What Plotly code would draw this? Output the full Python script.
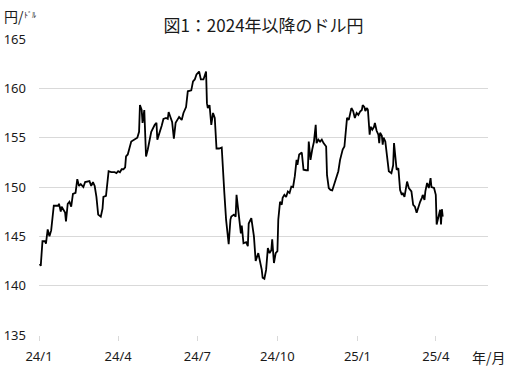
import plotly.graph_objects as go

dates = [
    "2024-01-02", "2024-01-03", "2024-01-05", "2024-01-08", "2024-01-09", "2024-01-11", "2024-01-13", "2024-01-15",
    "2024-01-18", "2024-01-23", "2024-01-24", "2024-01-26", "2024-01-27", "2024-01-31", "2024-02-01", "2024-02-03",
    "2024-02-05", "2024-02-07", "2024-02-09", "2024-02-12", "2024-02-14", "2024-02-16", "2024-02-18", "2024-02-21",
    "2024-02-23", "2024-02-26", "2024-02-28", "2024-03-01", "2024-03-03", "2024-03-05", "2024-03-07", "2024-03-09",
    "2024-03-12", "2024-03-14", "2024-03-15", "2024-03-18", "2024-03-21", "2024-03-24", "2024-03-28", "2024-03-30",
    "2024-04-01", "2024-04-03", "2024-04-05", "2024-04-07", "2024-04-09", "2024-04-10", "2024-04-12", "2024-04-16",
    "2024-04-20", "2024-04-23", "2024-04-25", "2024-04-26", "2024-04-28", "2024-04-29", "2024-05-01", "2024-05-02",
    "2024-05-03", "2024-05-05", "2024-05-07", "2024-05-09", "2024-05-13", "2024-05-15", "2024-05-16", "2024-05-18",
    "2024-05-20", "2024-05-21", "2024-05-23", "2024-05-26", "2024-05-28", "2024-05-29", "2024-05-31", "2024-06-02",
    "2024-06-04", "2024-06-06", "2024-06-08", "2024-06-10", "2024-06-13", "2024-06-15", "2024-06-18", "2024-06-20",
    "2024-06-24", "2024-06-26", "2024-06-28", "2024-06-30", "2024-07-03", "2024-07-05", "2024-07-08", "2024-07-11",
    "2024-07-12", "2024-07-13", "2024-07-15", "2024-07-17", "2024-07-19", "2024-07-21", "2024-07-23", "2024-07-26",
    "2024-07-29", "2024-07-30", "2024-08-01", "2024-08-03", "2024-08-06", "2024-08-08", "2024-08-09", "2024-08-12",
    "2024-08-14", "2024-08-15", "2024-08-17", "2024-08-20", "2024-08-21", "2024-08-23", "2024-08-26", "2024-08-28",
    "2024-08-29", "2024-09-01", "2024-09-04", "2024-09-06", "2024-09-09", "2024-09-11", "2024-09-13", "2024-09-14",
    "2024-09-16", "2024-09-18", "2024-09-20", "2024-09-22", "2024-09-24", "2024-09-25", "2024-09-27", "2024-09-29",
    "2024-10-01", "2024-10-02", "2024-10-04", "2024-10-06", "2024-10-07", "2024-10-09", "2024-10-11", "2024-10-13",
    "2024-10-15", "2024-10-17", "2024-10-19", "2024-10-21", "2024-10-23", "2024-10-24", "2024-10-26", "2024-10-29",
    "2024-10-31", "2024-11-03", "2024-11-05", "2024-11-06", "2024-11-08", "2024-11-10", "2024-11-12", "2024-11-14",
    "2024-11-15", "2024-11-17", "2024-11-19", "2024-11-21", "2024-11-23", "2024-11-26", "2024-11-27", "2024-11-29",
    "2024-12-01", "2024-12-03", "2024-12-05", "2024-12-07", "2024-12-10", "2024-12-12", "2024-12-14", "2024-12-15",
    "2024-12-17", "2024-12-19", "2024-12-20", "2024-12-22", "2024-12-23", "2024-12-25", "2024-12-27", "2024-12-29",
    "2024-12-31", "2025-01-02", "2025-01-04", "2025-01-06", "2025-01-07", "2025-01-09", "2025-01-10", "2025-01-12",
    "2025-01-13", "2025-01-15", "2025-01-16", "2025-01-18", "2025-01-20", "2025-01-21", "2025-01-23", "2025-01-25",
    "2025-01-26", "2025-01-27", "2025-01-29", "2025-01-30", "2025-01-31", "2025-02-02", "2025-02-04", "2025-02-06",
    "2025-02-09", "2025-02-11", "2025-02-12", "2025-02-14", "2025-02-15", "2025-02-17", "2025-02-19", "2025-02-21",
    "2025-02-22", "2025-02-24", "2025-02-25", "2025-02-27", "2025-03-01", "2025-03-04", "2025-03-06", "2025-03-08",
    "2025-03-10", "2025-03-12", "2025-03-14", "2025-03-16", "2025-03-17", "2025-03-19", "2025-03-20", "2025-03-22",
    "2025-03-24", "2025-03-26", "2025-03-27", "2025-03-30", "2025-04-01", "2025-04-02", "2025-04-04", "2025-04-06",
    "2025-04-07", "2025-04-08", "2025-04-09",
]

usdjpy = [
    142.2, 142.0, 144.5, 144.5, 144.25, 145.7, 145.0, 145.6,
    148.1, 148.1, 148.3, 147.5, 148.0, 147.4, 146.5, 148.3,
    148.5, 148.0, 149.3, 149.4, 150.8, 150.1, 150.3, 150.0,
    150.5, 150.6, 150.6, 150.1, 150.5, 150.1, 149.0, 147.2,
    147.0, 147.8, 149.0, 149.1, 151.6, 151.5, 151.5, 151.4,
    151.6, 151.5, 151.8, 151.8, 152.0, 153.1, 153.3, 154.6,
    154.8, 155.0, 155.6, 158.3, 157.8, 156.5, 157.8, 155.2,
    153.1, 153.8, 154.8, 155.6, 156.3, 156.5, 154.8, 155.3,
    156.0, 156.2, 156.9, 157.0, 156.9, 157.6, 157.1, 156.6,
    154.9, 156.5, 156.8, 157.1, 156.8, 157.5, 158.1, 159.7,
    159.8, 160.7, 160.9, 161.4, 161.7, 160.9, 160.9, 161.7,
    158.5, 158.0, 158.3, 156.3, 157.5, 157.0, 153.9, 153.9,
    154.0, 152.1, 149.4, 146.7, 144.2, 146.7, 147.0, 147.2,
    147.0, 149.2, 147.4, 145.3, 146.1, 144.3, 144.4, 144.0,
    146.3, 146.85, 145.0, 142.5, 143.3, 142.5, 141.6, 140.8,
    140.7, 141.6, 143.8, 143.3, 143.6, 144.7, 142.3, 143.3,
    143.5, 146.7, 148.5, 148.2, 148.9, 149.2, 149.0, 149.55,
    149.4, 150.05, 150.0, 151.1, 152.75, 152.25, 153.3, 153.5,
    151.75, 151.7, 151.7, 154.6, 152.75, 153.8, 154.6, 156.3,
    154.45, 154.8, 154.6, 154.8, 154.45, 154.1, 151.2, 149.9,
    149.7, 149.65, 150.2, 150.7, 151.6, 152.75, 153.6, 153.8,
    154.1, 156.5, 157.0, 156.8, 157.3, 158.0, 157.7, 157.0,
    157.5, 157.3, 157.65, 157.8, 158.3, 158.1, 157.7, 158.0,
    157.8, 155.3, 156.1, 155.8, 156.1, 156.5, 155.7, 155.3,
    154.45, 155.5, 155.2, 154.3, 155.0, 154.6, 153.1, 151.6,
    151.4, 152.2, 154.45, 152.9, 151.75, 151.9, 149.7, 149.2,
    149.4, 149.0, 149.4, 150.55, 149.9, 149.55, 148.2, 148.0,
    147.4, 148.0, 148.5, 148.9, 149.2, 148.7, 149.55, 150.4,
    149.9, 150.9, 150.0, 149.9, 149.2, 146.2, 147.1, 147.7,
    146.2, 147.75, 147.0,
]

tick_dates = ["2024-01-01", "2024-04-01", "2024-07-01", "2024-10-01", "2025-01-01", "2025-04-01"]
tick_labels = ["24/1", "24/4", "24/7", "24/10", "25/1", "25/4"]
y_ticks = [135, 140, 145, 150, 155, 160, 165]

FONT = "Noto Sans, Noto Sans CJK JP, sans-serif"
JP = "Noto Sans CJK JP, sans-serif"

fig = go.Figure()
fig.add_trace(go.Scatter(
    x=dates, y=usdjpy, mode="lines",
    line=dict(color="black", width=1.8),
    hoverinfo="skip", showlegend=False,
))

fig.update_layout(
    width=512, height=366,
    margin=dict(l=39, r=24, t=39, b=31, autoexpand=False),
    paper_bgcolor="white", plot_bgcolor="white",
    font=dict(family=FONT, size=13, color="#1a1a1a"),
    title=dict(text="図1：2024年以降のドル円", x=0.5, xanchor="center", xref="paper",
               y=0.928, yanchor="middle", font=dict(family=JP, size=17, color="#1a1a1a")),
    xaxis=dict(
        type="date", range=["2024-01-01", "2025-05-31"],
        tickmode="array", tickvals=tick_dates, ticktext=tick_labels,
        ticks="outside", ticklen=5, tickcolor="#d9d9d9", tickwidth=1,
        showgrid=False, showline=False, zeroline=False,
        ticklabelstandoff=4,
    ),
    yaxis=dict(
        range=[135, 165], tickmode="array", tickvals=y_ticks,
        showgrid=True, gridcolor="#d9d9d9", gridwidth=1,
        zeroline=False, showline=False, ticks="",
        ticklabelstandoff=12,
    ),
    annotations=[
        dict(text="年/月", x=489, y=357, xref="paper", yref="paper", showarrow=False,
             font=dict(family=JP, size=14, color="#1a1a1a"), xanchor="center", yanchor="middle"),
        dict(text="円/", x=2, y=16, xref="paper", yref="paper", showarrow=False,
             font=dict(family=JP, size=14, color="#1a1a1a"), xanchor="left", yanchor="middle"),
        dict(text="ﾄﾞﾙ", x=22, y=14, xref="paper", yref="paper", showarrow=False,
             font=dict(family=JP, size=8, color="#1a1a1a"), xanchor="left", yanchor="middle"),
    ],
)

# convert pixel-placed annotations into paper coordinates
pw = 512 - 39 - 24
ph = 366 - 39 - 31
for a in fig.layout.annotations:
    px, py = a.x, a.y
    a.x = (px - 39) / pw
    a.y = (366 - 31 - py) / ph

fig.write_html(
    "out.html",
    config={"displayModeBar": False, "staticPlot": True},
    post_script="document.body.style.margin='0';document.body.style.overflow='hidden';",
)
